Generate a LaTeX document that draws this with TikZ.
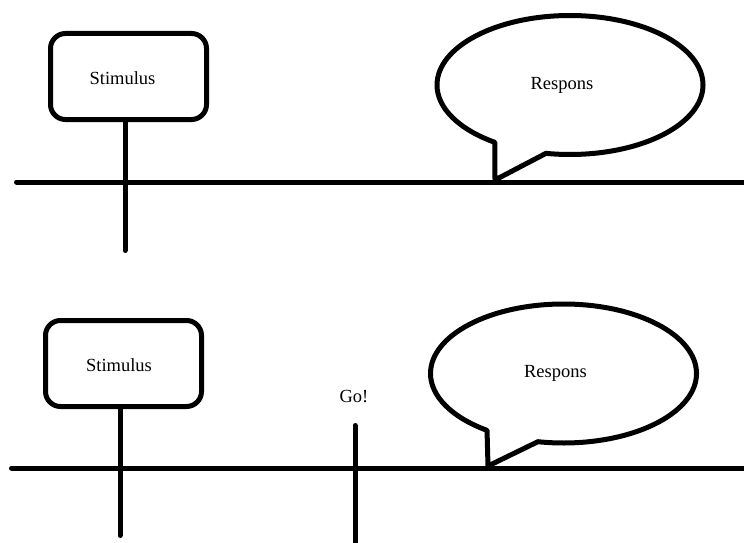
\documentclass[tikz,border=0pt]{standalone}
\usepackage{fontspec}
\setmainfont{Liberation Serif}
\usetikzlibrary{shapes.callouts}

\begin{document}
\begin{tikzpicture}[
    x=1pt,y=-1pt,
    font=\fontsize{18.5}{22}\selectfont,
    stroke/.style={line width=5pt,line cap=round},
    stimbox/.style={draw,line width=5pt,rounded corners=15pt,minimum width=156pt,
      minimum height=86pt,inner sep=0pt},
    bubble/.style={ellipse callout,draw,line width=5pt,line join=round,minimum width=266pt,
      minimum height=139pt,inner sep=0pt,callout pointer arc=24},
    word/.style={inner sep=0pt}
  ]
    \useasboundingbox (0,0) rectangle (744,543);

    % upper time line
    \coordinate (lineAw) at (16.5,182);
    \coordinate (lineAe) at (744,182);
    \coordinate (stemA) at (125,250.5);
    \coordinate (tipA) at (495,180);
    \node[stimbox,label={[word,xshift=-6pt,yshift=-1.5pt]center:Stimulus}] (stimA) at (128.5,76.5) {};
    \node[bubble,callout absolute pointer={(tipA)},
      label={[word,xshift=-8pt]center:Respons}] (respA) at (570,85) {};
    \draw[stroke] (lineAw) -- (lineAe);
    \draw[stroke] (stemA |- stimA.south) -- (stemA);

    % lower time line
    \coordinate (lineBw) at (11.5,468);
    \coordinate (lineBe) at (744,468);
    \coordinate (stemB) at (120,535.5);
    \coordinate (tipB) at (488,466);
    \coordinate (goTop) at (355,425.5);
    \coordinate (goEnd) at (355,543);
    \node[stimbox,label={[word,xshift=-4.5pt,yshift=-1.5pt]center:Stimulus}] (stimB) at (123.5,363.5) {};
    \node[bubble,callout absolute pointer={(tipB)},
      label={[word,xshift=-8pt]center:Respons}] (respB) at (563.5,373.5) {};
    \node[word] (go) at (354,397) {Go!};
    \draw[stroke] (lineBw) -- (lineBe);
    \draw[stroke] (stemB |- stimB.south) -- (stemB);
    \draw[stroke] (goTop) -- (goEnd);
  \end{tikzpicture}
\end{document}
